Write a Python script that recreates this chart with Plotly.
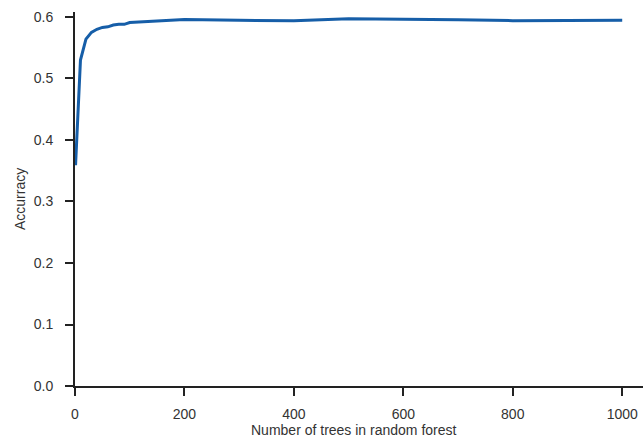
import plotly.graph_objects as go

n_trees = [1, 10, 20, 30, 40, 50, 60, 70, 80, 90, 100, 200, 300, 400, 500, 600, 700, 800, 900, 1000]
accuracy = [0.359, 0.530, 0.564, 0.575, 0.580, 0.583, 0.584, 0.587, 0.588, 0.588, 0.591,
            0.596, 0.5945, 0.594, 0.597, 0.5965, 0.5955, 0.594, 0.594, 0.5945]
x_ticks = [0, 200, 400, 600, 800, 1000]
y_ticks = [0.0, 0.1, 0.2, 0.3, 0.4, 0.5, 0.6]
x_title = "Number of trees in random forest"
y_title = "Accurracy"

xr = [0, 1038]
yr = [0, 0.6081]

fig = go.Figure()
fig.add_trace(go.Scatter(x=n_trees, y=accuracy, mode="lines",
                         line=dict(color="#165ea8", width=3)))

family = "Liberation Sans, Arial, sans-serif"
font = dict(family=family, size=14, color="#333333")
title_font = dict(family=family, size=14, color="#333333")
axis_common = dict(showgrid=False, zeroline=False, showline=True, linecolor="#222222", linewidth=2,
                   ticks="outside", ticklen=8, tickwidth=2, tickcolor="#222222",
                   automargin=False)
fig.update_layout(
    width=643, height=437,
    margin=dict(l=75, r=0, t=12, b=51),
    plot_bgcolor="white", paper_bgcolor="white",
    showlegend=False,
    font=font,
    xaxis=dict(range=xr, tickvals=x_ticks, ticktext=[str(v) for v in x_ticks],
               ticklabelstandoff=6, **axis_common),
    yaxis=dict(range=yr, tickvals=y_ticks, ticktext=[f"{v:.1f}" for v in y_ticks],
               ticklabelstandoff=9, **axis_common),
    annotations=[
        dict(text=x_title, xref="paper", yref="paper", x=0.5, y=0, xanchor="center",
             yanchor="middle", xshift=-5, yshift=-44, showarrow=False, font=title_font),
        dict(text=y_title, xref="paper", yref="paper", x=0, y=0.5, xanchor="center",
             yanchor="middle", xshift=-55, textangle=-90, showarrow=False, font=title_font),
    ],
)
fig.write_html("out.html", config={"displayModeBar": False},
               post_script="document.body.style.margin='0';")
